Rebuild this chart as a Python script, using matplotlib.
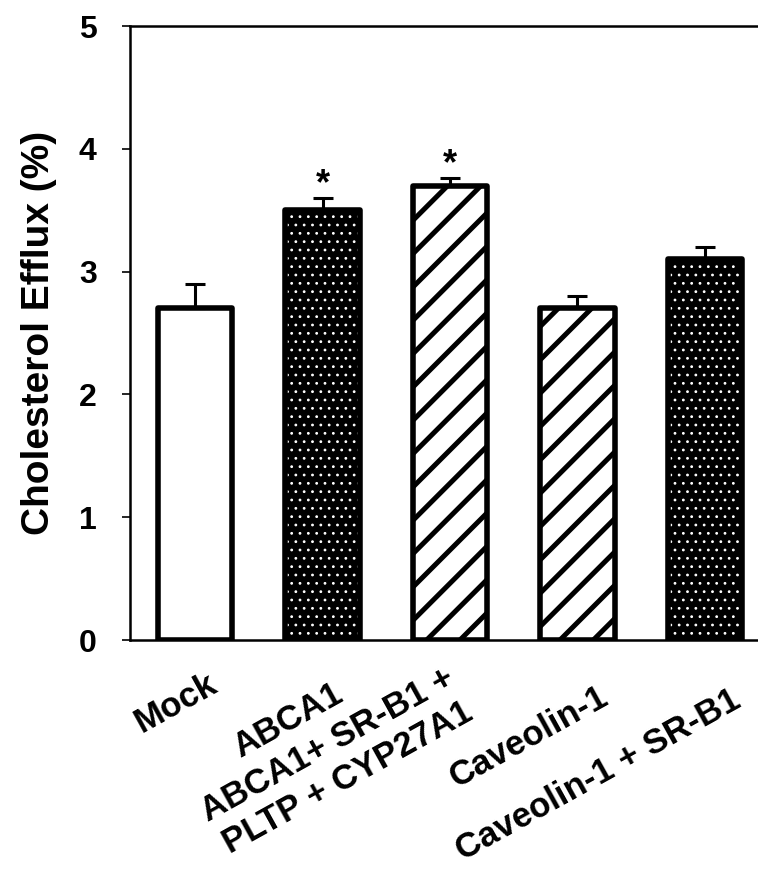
import numpy as np
import matplotlib
matplotlib.use('Agg')
import matplotlib.pyplot as plt
import matplotlib.transforms as mtransforms

plt.rcParams['font.family'] = ['Liberation Sans', 'DejaVu Sans']
plt.rcParams['font.weight'] = 'bold'

# data
groups = ['Mock', 'ABCA1', 'ABCA1+ SR-B1 +\nPLTP + CYP27A1', 'Caveolin-1', 'Caveolin-1 + SR-B1']
efflux = [2.70, 3.50, 3.70, 2.70, 3.10]
sem = [0.20, 0.10, 0.06, 0.10, 0.10]
significant = [False, True, True, False, False]
y_ticks = [0, 1, 2, 3, 4, 5]

fills = ['plain', 'dots', 'stripes', 'stripes', 'dots']
# pixel nudges of the rotated labels (right, down from the bar centre / axis)
label_dx = [12, 10, -6, 20, 25]
label_dy = [27, 37, 22, 40, 43]

fig = plt.figure(figsize=(7.58, 8.72), dpi=100)
ax = fig.add_axes([130/758, 1 - 640/872, 628/758, 614/872])

x = np.arange(len(groups))
w = 0.584
edge_lw = 4.0

for xi, v, f in zip(x, efflux, fills):
    if f == 'dots':
        with plt.rc_context({'hatch.linewidth': 0.8}):
            ax.bar(xi, v, w, color='black', edgecolor='white', hatch='..', linewidth=0, zorder=2)
        ax.bar(xi, v, w, facecolor='none', edgecolor='black', linewidth=edge_lw, joinstyle='round', zorder=3)
    elif f == 'stripes':
        with plt.rc_context({'hatch.linewidth': 3.6}):
            ax.bar(xi, v, w, color='white', edgecolor='black', hatch='/', linewidth=edge_lw,
                   joinstyle='round', zorder=3)
    else:
        ax.bar(xi, v, w, color='white', edgecolor='black', linewidth=edge_lw, joinstyle='round', zorder=3)

ax.errorbar(x, efflux, yerr=[np.zeros(len(sem)), sem], fmt='none', ecolor='black',
            elinewidth=2.2, capsize=7.5, capthick=2.2, zorder=4)

for xi, v, e, s in zip(x, efflux, sem, significant):
    if s:
        ax.text(xi, v + e + 0.03, '*', ha='center', va='baseline', fontsize=26, fontweight='bold')

ax.set_xlim(-0.51, 4.416)
ax.set_ylim(0, 5)
ax.set_yticks(y_ticks)
ax.tick_params(axis='y', direction='out', length=6, width=1.2, pad=18, labelsize=23)
ax.set_xticks(x)
ax.set_xticklabels(groups)
ax.tick_params(axis='x', length=0, pad=0, labelsize=25)
for lab, dx, dy in zip(ax.get_xticklabels(), label_dx, label_dy):
    lab.set_rotation(29)
    lab.set_ha('right')
    lab.set_va('top')
    lab.set_rotation_mode('anchor')
    lab.set_multialignment('right')
    lab.set_transform(lab.get_transform() +
                      mtransforms.ScaledTranslation(dx / 100, -dy / 100, fig.dpi_scale_trans))

ax.set_ylabel('Cholesterol Efflux (%)', fontsize=28, fontweight='bold')
ax.yaxis.set_label_coords(-0.116, 0.5)

for sp in ['left', 'bottom', 'top']:
    ax.spines[sp].set_linewidth(1.8)
ax.spines['right'].set_visible(False)

fig.savefig('out.png', dpi=100)
